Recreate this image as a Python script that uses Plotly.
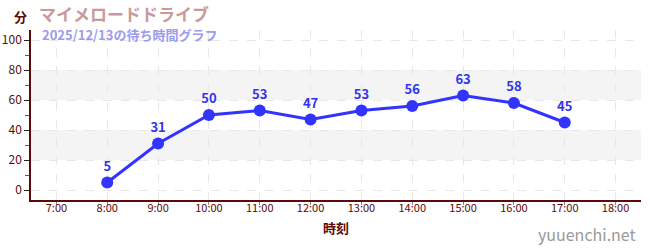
import plotly.graph_objects as go

hours = [8, 9, 10, 11, 12, 13, 14, 15, 16, 17]
waits = [5, 31, 50, 53, 47, 53, 56, 63, 58, 45]
tick_vals = list(range(7, 19))
tick_text = [f"{h}:00" for h in tick_vals]
title = "マイメロードドライブ"
subtitle = "2025/12/13の待ち時間グラフ"
y_unit = "分"
x_title = "時刻"
watermark = "yuuenchi.net"
bands = [(20, 40), (60, 80)]

FONT = "Noto Sans CJK JP"
DARK = "#5a0a0a"

fig = go.Figure()
fig.add_trace(go.Scatter(
    x=hours, y=waits, mode="lines+markers+text",
    text=[str(v) for v in waits], textposition="top center",
    textfont=dict(family=FONT, size=13, color="#3333ee", weight="bold"),
    line=dict(color="#3333ff", width=3),
    marker=dict(color="#3333ff", size=12),
    cliponaxis=False,
))

for y0, y1 in bands:
    fig.add_shape(type="rect", xref="paper", x0=0, x1=1, yref="y", y0=y0, y1=y1,
                  fillcolor="#f4f4f4", line=dict(width=0), layer="below")

fig.update_layout(
    width=650, height=250,
    margin=dict(l=31, r=9, t=30, b=50),
    paper_bgcolor="white", plot_bgcolor="white",
    showlegend=False,
    font=dict(family=FONT, color=DARK),
    xaxis=dict(
        range=[6.5, 18.5], tickvals=tick_vals, ticktext=tick_text,
        tickfont=dict(family=FONT, size=11, color=DARK),
        showgrid=True, gridcolor="#e8e8e8", griddash="dash", gridwidth=1,
        showline=True, linecolor=DARK, linewidth=1.5,
        ticks="outside", ticklen=3, tickcolor="#888888",
        ticklabelstandoff=-6,
        title=dict(text=x_title, font=dict(family=FONT, size=13, color=DARK, weight="bold"), standoff=10),
        zeroline=False, fixedrange=True, automargin=False,
    ),
    yaxis=dict(
        range=[-6.67, 106.67], tickvals=[0, 20, 40, 60, 80, 100],
        tickfont=dict(family=FONT, size=12, color=DARK),
        showgrid=True, gridcolor="#e8e8e8", griddash="dash", gridwidth=1,
        showline=True, linecolor=DARK, linewidth=1.5,
        ticks="outside", ticklen=5, tickcolor="#222222",
        minor=dict(tickvals=[10, 30, 50, 70, 90], ticks="outside", ticklen=4,
                   tickcolor="#dd2222", showgrid=False),
        zeroline=False, fixedrange=True, automargin=False,
    ),
    annotations=[
        dict(text=f"<b>{title}</b>", xref="paper", yref="paper", x=0, xshift=6, y=1.0, yshift=17,
             xanchor="left", yanchor="middle", showarrow=False,
             font=dict(family=FONT, size=17, color="#c9999b")),
        dict(text=f"<b>{subtitle}</b>", xref="paper", yref="paper", x=0, xshift=9, y=1.0, yshift=-4,
             xanchor="left", yanchor="middle", showarrow=False,
             font=dict(family=FONT, size=13, color="#9b9bf0")),
        dict(text=f"<b>{y_unit}</b>", xref="paper", yref="paper", x=0, xshift=-11, y=1.0, yshift=14,
             xanchor="center", yanchor="middle", showarrow=False,
             font=dict(family=FONT, size=13, color=DARK)),
        dict(text=watermark, xref="paper", yref="paper", x=1.0, xshift=-3, y=0, yshift=-34,
             xanchor="right", yanchor="middle", showarrow=False,
             font=dict(family=FONT, size=16, color="#999999")),
    ],
)

fig.write_html("out.html")
